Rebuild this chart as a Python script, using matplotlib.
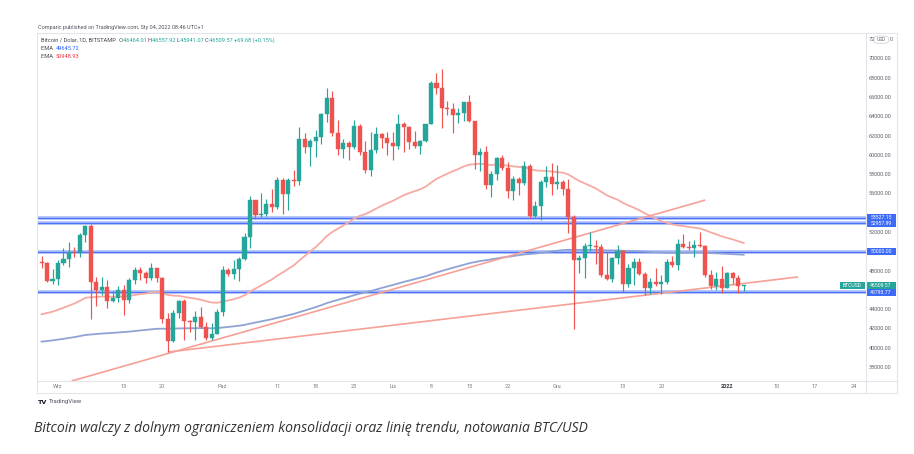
import matplotlib
matplotlib.use("Agg")
import matplotlib.pyplot as plt
from matplotlib.lines import Line2D
from matplotlib.patches import Rectangle, FancyBboxPatch
import numpy as np

# ---------------- data (BTC/USD daily, Aug 29 2021 -> Jan 4 2022) ----------------
first_day = -3  # Aug 29 2021, day 0 = Sep 1 2021

closes = [48800, 46990, 47150,
          48850, 49280, 50030, 49940, 51790, 52700, 46870, 46050, 46400, 44850,
          45160, 46060, 44960, 47100, 48150, 47760, 47300, 48310, 47250, 43000,
          40700, 43600, 44900, 42800, 42700, 43200, 42200, 41050, 41520, 43800,
          48150, 47650, 48250, 49250, 51500, 55350, 53800, 53950, 54950, 54650,
          57500, 56000, 57400, 57350, 61650, 60900, 61500, 61950, 64250, 66000,
          62300, 60700, 61300, 60850, 63100, 60350, 58450, 60600, 62250, 61850, 61300,
          60950, 63250, 62950, 61400, 61000, 61500, 63300, 67550, 66950, 64900,
          64800, 64150, 64400, 65500, 63600, 60050, 60350, 56900, 58100, 59700,
          58700, 56300, 57600, 57150, 58950, 53700, 54750, 57250, 57800, 57000,
          57200, 56500, 53600, 49200, 49400, 50600, 50600, 50500, 47600, 47150,
          49350, 50100, 46700, 48350, 48900, 47650, 46200, 46850, 46700, 46900,
          48950, 48600, 50800, 50450, 50400, 50700, 50600, 47550, 46450, 47150, 46200,
          47750, 47300, 46464, 46509.57]

first_open = 48900
last_open = 46464.01

highs = [49600, 48900, 48200,
         49100, 50400, 51000, 50550, 51900, 52780, 52920, 47350, 47350, 47050,
         45950, 46450, 46600, 47250, 48450, 48450, 48000, 48800, 48350, 47350,
         43600, 44000, 44950, 45100, 42950, 43900, 44300, 42750, 42600, 44100,
         48500, 48350, 49150, 49500, 51900, 55750, 55350, 56100, 55450, 56500,
         57800, 57650, 57700, 58500, 62900, 62350, 61700, 62650, 64450, 67000,
         66650, 63700, 61700, 61450, 63700, 63250, 61450, 62450, 62950, 62300, 62400,
         62400, 64250, 63500, 63100, 62550, 61550, 63300, 67700, 68500, 69000,
         65600, 65450, 64900, 65500, 66300, 63600, 60800, 60950, 58400, 59800,
         60000, 59300, 57850, 57800, 59400, 59150, 55300, 57400, 58850, 59200,
         59050, 57400, 57600, 53850, 49700, 50900, 52050, 51200, 50800, 50000,
         49500, 50700, 50200, 48700, 49400, 49400, 47950, 47300, 48300, 47550,
         49300, 49550, 51350, 51800, 51150, 51250, 52100, 50700, 48100, 47900, 48550,
         47900, 47950, 47550, 46557.92]

lows = [48300, 46900, 46700,
        46550, 48600, 48400, 49500, 49500, 50970, 43000, 44400, 45500, 44200,
        44750, 44750, 43400, 44700, 46700, 47050, 46750, 47100, 46900, 42600,
        39600, 40600, 43100, 40900, 41700, 40800, 42100, 40900, 40800, 41450,
        43300, 47450, 47150, 46950, 49100, 50400, 53400, 53650, 53700, 54100,
        54450, 53900, 54300, 56800, 56900, 60200, 58950, 59850, 61150, 63500,
        62000, 60000, 59700, 59550, 60650, 60050, 58150, 57850, 60200, 60750, 60050,
        59500, 60650, 60400, 60700, 60750, 60100, 61400, 63300, 66400, 62800,
        64150, 62300, 63400, 63600, 63500, 58600, 58400, 56500, 55700, 57400,
        58500, 55600, 55400, 55900, 56900, 53550, 53650, 53350, 56750, 55900,
        56500, 55850, 52000, 42000, 47850, 47300, 50100, 48700, 47400, 47100,
        46900, 48700, 45800, 46300, 46600, 47550, 45500, 45600, 46450, 45600,
        46650, 48450, 48100, 50400, 50200, 49500, 50500, 47350, 46100, 46000, 45700,
        46200, 46700, 45700, 45941.07]

ema50_start = 43300     # EMA values on the day before the first candle
ema200_start = 40600

h_levels = [53527.15, 52957.99, 50000.00, 45793.77]
last_price = 46509.57

# trend lines (day, price)
trend_a = [(2.5, 36600), (118.0, 55370)]
trend_b = [(20.0, 39600), (134.9, 47390)]

xtick_days = [0, 12, 19, 30, 40, 47, 54, 61, 68, 75, 82, 91, 103, 110, 122, 131, 138, 145]
xtick_labels = ["Wrz", "13", "20", "Paź", "11", "18", "25", "Lis", "8", "15", "22",
                "Gru", "13", "20", "2022", "10", "17", "24"]
ytick_values = list(range(38000, 70001, 2000))

# ---------------- derived ----------------
n = len(closes)
days = np.arange(first_day, first_day + n)
opens = [first_open] + closes[:-1]
opens[-1] = last_open

def ema(vals, start, period):
    a = 2.0 / (period + 1)
    out = []
    e = start
    for v in vals:
        e = e + a * (v - e)
        out.append(e)
    return np.array(out)

ema50 = ema(closes, ema50_start, 50)
ema200 = ema(closes, ema200_start, 200)

# ---------------- figure ----------------
W, H = 914, 454
fig = plt.figure(figsize=(W / 100, H / 100), dpi=100)
fig.patch.set_facecolor("white")

FL, FR, FT, FB = 37, 897, 33, 393   # outer frame
AXR = 866                             # price axis line
AXB = 381                             # time axis line

ax = fig.add_axes([FL / W, 1 - AXB / H, (AXR - FL) / W, (AXB - FT) / H])
ax.set_xlim(-3.83, 147.3)
ax.set_ylim(36598, 72697)
for s in ax.spines.values():
    s.set_visible(False)
ax.set_xticks([])
ax.set_yticks([])
ax.set_facecolor("white")

UP = "#26a69a"
DN = "#ef5350"
FONT = "Roboto"

# horizontal levels
for lv in h_levels:
    ax.axhline(lv, color="#a7bbfb", lw=2.6, zorder=1)
    ax.axhline(lv, color="#4d72f6", lw=0.8, zorder=1.1)

# EMAs
ax.plot(days, ema200, color="#8fa3d3", lw=1.3, zorder=2)
ax.plot(days, ema50, color="#f6aaa2", lw=1.3, zorder=2)

# trend lines
for tl in (trend_a, trend_b):
    ax.plot([tl[0][0], tl[1][0]], [tl[0][1], tl[1][1]], color="#f6a096", lw=1.2,
            zorder=2, solid_capstyle="butt")

# candles
for d, o, h, l, c in zip(days, opens, highs, lows, closes):
    col = UP if c >= o else DN
    ax.vlines(d, l, h, color=col, lw=0.85, zorder=3)
    bot = min(o, c)
    hgt = max(abs(c - o), 90)
    ax.add_patch(Rectangle((d - 0.37, bot), 0.74, hgt, facecolor=col, edgecolor=col,
                           lw=0.3, zorder=4))

# ---------------- frame lines ----------------
def hline(y, x0, x1, color="#e3e5ea", lw=0.8):
    fig.add_artist(Line2D([x0 / W, x1 / W], [1 - y / H, 1 - y / H], color=color, lw=lw))

def vline(x, y0, y1, color="#e3e5ea", lw=0.8):
    fig.add_artist(Line2D([x / W, x / W], [1 - y0 / H, 1 - y1 / H], color=color, lw=lw))

hline(FT, FL, FR)
hline(FB, FL, FR)
hline(AXB, FL, FR)
vline(FL, FT, FB)
vline(FR, FT, FB)
vline(AXR, FT, FB)

def ypix(p):
    return H - ax.transData.transform((0, p))[1]

box_prices = h_levels + [last_price]
box_pix = [ypix(p) for p in box_prices]

# ---------------- y tick labels (hidden under price boxes) ----------------
for v in ytick_values:
    y = ypix(v)
    if min(abs(y - b) for b in box_pix) < 8.5:
        continue
    fig.text(869 / W, 1 - y / H, f"{v:.2f}", fontsize=4.0, color="#5d606b",
             ha="left", va="center", family=FONT)

# 72000 label partly covered by the USD badge
y72 = ypix(72000)
fig.text(869 / W, 1 - y72 / H, "72", fontsize=4.0, color="#5d606b",
         ha="left", va="center", family=FONT)
fig.text(889.5 / W, 1 - y72 / H, "0", fontsize=4.0, color="#5d606b",
         ha="left", va="center", family=FONT)
fig.add_artist(FancyBboxPatch((875 / W, 1 - (y72 + 3.2) / H), 12.5 / W, 6.4 / H,
                              boxstyle="round,pad=0.001,rounding_size=0.005",
                              transform=fig.transFigure, fc="white", ec="#c9cbd1", lw=0.5))
fig.text(881.2 / W, 1 - y72 / H, "USD", fontsize=3.4, color="#5d606b",
         ha="center", va="center", family=FONT)

# price boxes
def price_box(p, color):
    y = ypix(p)
    fig.add_artist(Rectangle((AXR / W, 1 - (y + 3.6) / H), (FR - AXR - 1) / W, 7.2 / H,
                             transform=fig.transFigure, fc=color, ec=color, lw=0))
    fig.text(881 / W, 1 - y / H, f"{p:.2f}", fontsize=3.7, color="white",
             ha="center", va="center", family=FONT)

for lv in h_levels:
    price_box(lv, "#3d6bf7")
price_box(last_price, UP)

# "BTCUSD" tag
yb = ypix(last_price)
fig.add_artist(Rectangle((840 / W, 1 - (yb + 3.8) / H), 25 / W, 7.6 / H,
                         transform=fig.transFigure, fc=UP, ec=UP, lw=0))
fig.text(852.5 / W, 1 - yb / H, "BTCUSD", fontsize=3.7, color="white",
         ha="center", va="center", family=FONT)

# ---------------- x tick labels ----------------
for d, lab in zip(xtick_days, xtick_labels):
    xp = ax.transData.transform((d, 0))[0]
    fig.text(xp / W, 1 - 387 / H, lab, fontsize=4.0,
             color="#3a3d45" if lab == "2022" else "#787b86",
             fontweight="bold" if lab == "2022" else "normal",
             ha="center", va="center", family=FONT)

# ---------------- header texts ----------------
fig.canvas.draw()
renderer = fig.canvas.get_renderer()

def seq_text(x, y, parts, size=4.1):
    for txt, col in parts:
        t = fig.text(x / W, 1 - y / H, txt, fontsize=size, color=col,
                     ha="left", va="center", family=FONT)
        bb = t.get_window_extent(renderer)
        x += bb.width

fig.text(38 / W, 1 - 27.5 / H, "Comparic published on TradingView.com, Sty 04, 2022 08:46 UTC+1",
         fontsize=4.0, color="#50535e", ha="left", va="center", family=FONT)

G = "#26a69a"
K = "#434651"
seq_text(41, 40.3, [("Bitcoin / Dolar, 1D, BITSTAMP  ", K), ("O", K), ("46464.01 ", G),
                    ("H", K), ("46557.92 ", G), ("L", K), ("45941.07 ", G),
                    ("C", K), ("46509.57 ", G), ("+69.68 (+0.15%)", G)])
seq_text(41, 48.3, [("EMA  ", K), ("49645.72", "#2962ff")])
seq_text(41, 56.5, [("EMA  ", K), ("50948.93", "#f23645")])

# TradingView logo
fig.text(38 / W, 1 - 402 / H, "TV", fontsize=4.6, color="#131722", fontweight="bold",
         ha="left", va="center", family="DejaVu Sans")
fig.text(49 / W, 1 - 402 / H, "TradingView", fontsize=4.3, color="#50535e",
         ha="left", va="center", family=FONT)

# caption
fig.text(34 / W, 1 - 428 / H,
         "Bitcoin walczy z dolnym ograniczeniem konsolidacji oraz linię trendu, notowania BTC/USD",
         fontsize=10.1, color="#333333", style="italic", ha="left", va="center",
         family=["Open Sans", "DejaVu Sans"])

fig.savefig("out.png", dpi=100, facecolor="white")
